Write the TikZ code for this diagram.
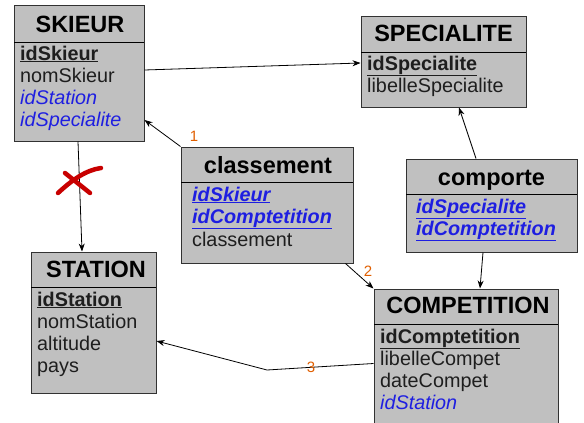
\documentclass[tikz,border=0pt]{standalone}
\usepackage{fontspec}
\setmainfont{Liberation Sans}
\usetikzlibrary{arrows.meta}
\definecolor{boxfill}{RGB}{192,192,192}
\definecolor{boxline}{RGB}{50,50,50}
\definecolor{attrc}{RGB}{30,30,30}
\definecolor{fkblue}{RGB}{30,30,225}
\definecolor{numc}{RGB}{225,95,0}
\definecolor{xred}{RGB}{200,0,0}
\begin{document}
\begin{tikzpicture}[x=1pt,y=-1pt,
  box/.style={draw=boxline, line width=1pt, fill=boxfill, inner sep=0pt, rectangle},
  hdr/.style={anchor=base, inner sep=0pt, font=\fontsize{23.5}{26}\selectfont\bfseries, text=black},
  attr/.style={anchor=base west, inner sep=0pt, font=\fontsize{19.8}{22}\selectfont, text=attrc},
  fk/.style={attr, text=fkblue, font=\fontsize{19.8}{22}\selectfont\itshape},
  pkfk/.style={attr, text=fkblue, font=\fontsize{19.8}{22}\selectfont\itshape\bfseries},
  divl/.style={draw=black, line width=1pt},
  conn/.style={draw=black, line width=0.8pt, -{Stealth[length=8pt,width=6pt]}},
  num/.style={inner sep=0pt, text=numc, font=\fontsize{15}{16}\selectfont},
  xstroke/.style={draw=xred, line width=4.5pt, line cap=round}]
\useasboundingbox (0,0) rectangle (584,423);
\fill[white] (0,0) rectangle (584,423);

% SKIEUR
\node[box, minimum width=130pt, minimum height=136pt] (skieur) at (79,73) {};
\draw[divl] (14,42) -- (144,42);
\node[hdr] (skieurT) at (80,32) {SKIEUR};
\node[attr] (sk1) at (20,60) {\textbf{\underline{idSkieur}}};
\node[attr] (sk2) at (20,82) {nomSkieur};
\node[fk] (sk3) at (20,104) {idStation};
\node[fk] (sk4) at (20,126) {idSpecialite};

% SPECIALITE
\node[box, minimum width=165pt, minimum height=91pt] (spec) at (443.5,61.5) {};
\draw[divl] (361,52) -- (526,52);
\node[hdr] (specT) at (443.5,41) {SPECIALITE};
\node[attr] (sp1) at (367,70) {\textbf{\underline{idSpecialite}}};
\node[attr] (sp2) at (367,92) {libelleSpecialite};

% classement
\node[box, minimum width=172pt, minimum height=116pt] (classement) at (267,205) {};
\draw[divl] (181,182) -- (353,182);
\node[hdr] (clT) at (268,173) {classement};
\node[pkfk] (cl1) at (192,201) {\underline{idSkieur}};
\node[pkfk] (cl2) at (192,223) {\underline{idComptetition}};
\node[attr] (cl3) at (192,246) {classement};

% comporte
\node[box, minimum width=171pt, minimum height=93pt] (comporte) at (491.5,205.5) {};
\draw[divl] (406,194) -- (577,194);
\node[hdr] (coT) at (491.5,185) {comporte};
\node[pkfk] (co1) at (416,213) {\underline{idSpecialite}};
\node[pkfk] (co2) at (416,235) {\underline{idComptetition}};

% STATION
\node[box, minimum width=125pt, minimum height=141pt] (station) at (93.5,322.5) {};
\draw[divl] (31,287) -- (156,287);
\node[hdr] (stT) at (96,277) {STATION};
\node[attr] (st1) at (37,306) {\textbf{\underline{idStation}}};
\node[attr] (st2) at (37,328) {nomStation};
\node[attr] (st3) at (37,350) {altitude};
\node[attr] (st4) at (37,372) {pays};

% COMPETITION
\node[box, minimum width=184pt, minimum height=160pt] (competition) at (466,369) {};
\draw[divl] (374,324) -- (558,324);
\node[hdr] (cpT) at (468,313) {COMPETITION};
\node[attr] (cp1) at (380,343) {\textbf{\underline{idComptetition}}};
\node[attr] (cp2) at (380,365) {libelleCompet};
\node[attr] (cp3) at (380,387) {dateCompet};
\node[fk] (cp4) at (380,409) {idStation};

% connectors
\draw[conn] ([yshift=3pt]skieur.east) -- ([yshift=-1.5pt]spec.west);
\draw[conn] (classement.north west) -- ([yshift=-47pt]skieur.east);
\draw[conn] ([xshift=-8pt]classement.south east) -- (competition.north west);
\draw[conn] ([xshift=-15.5pt]comporte.north) -- ([xshift=15.5pt]spec.south);
\draw[conn] ([xshift=-8.5pt]comporte.south) -- ([xshift=14pt]competition.north);
\draw[conn] ([xshift=-1pt]skieur.south) -- ([xshift=-11.5pt]station.north);
\coordinate (bend3) at (267,370);
\draw[conn] ([yshift=-75pt]competition.north west) -- (bend3) -- ([yshift=-18.5pt]station.east);

% cardinality labels
\node[num] (n1) at (194,136) {1};
\node[num] (n2) at (368,271) {2};
\node[num] (n3) at (311,367) {3};

% red cross
\draw[xstroke] (65,173) -- (90,193);
\draw[xstroke] (58,193) .. controls (72,180) and (86,170) .. (101,168);
\end{tikzpicture}
\end{document}
